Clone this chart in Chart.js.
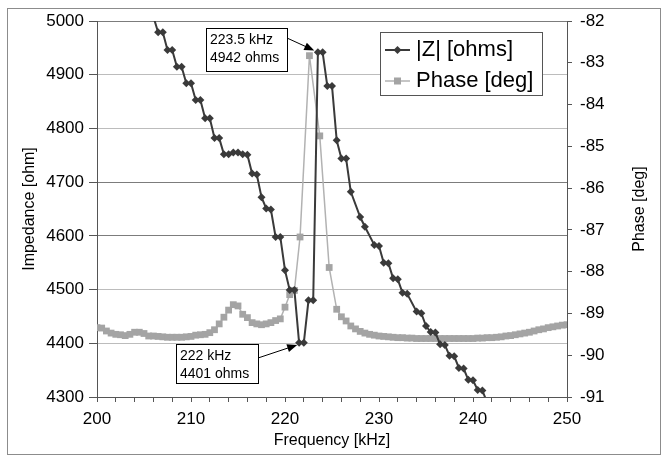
<!DOCTYPE html>
<html>
<head>
<meta charset="utf-8">
<script src="https://cdn.jsdelivr.net/npm/chart.js@4.4.1/dist/chart.umd.min.js"></script>
<style>
  body { margin: 0; background: #fff; }
</style>
</head>
<body>
<canvas id="myChart" width="669" height="463"></canvas>
<script>
// |Z| readings (kHz / ohm)
let zFreq = [205.5, 206, 206.5, 207, 207.5, 208, 208.5, 209, 209.5, 210, 210.5, 211, 211.5, 212, 212.5, 213,
  213.5, 214, 214.5, 215, 215.5, 216, 216.5, 217, 217.5, 218, 218.5, 219, 219.5, 220, 220.5, 221, 221.5, 222,
  222.5, 223, 223.5, 224, 224.5, 225, 225.5, 226, 226.5, 227, 228, 228.5, 229.5, 230, 230.5, 231, 231.5, 232,
  232.5, 233, 234, 234.5, 235, 235.5, 236, 236.5, 237, 237.5, 238, 238.5, 239, 239.5, 240, 240.5, 241, 241.5];
let zVals = [5008, 5008, 4979, 4979, 4946, 4946, 4915, 4915, 4884, 4884, 4853, 4853, 4819, 4819, 4782, 4782,
  4752, 4752, 4755, 4755, 4752, 4751, 4716, 4714, 4672, 4651, 4649, 4598, 4598, 4536, 4499, 4499, 4401, 4401,
  4480, 4480, 4942, 4942, 4879, 4879, 4778, 4744, 4744, 4682, 4635, 4617, 4583, 4581, 4550, 4549, 4521, 4519,
  4494, 4492, 4459, 4456, 4432, 4421, 4420, 4398, 4397, 4377, 4376, 4354, 4353, 4332, 4331, 4313, 4312, 4290];

// phase readings (kHz / deg)
let phFreq = [200, 200.5, 201, 201.5, 202, 202.5, 203, 203.5, 204, 204.5, 205, 205.5, 206, 206.5, 207, 207.5,
  208, 208.5, 209, 209.5, 210, 210.5, 211, 211.5, 212, 212.5, 213, 213.5, 214, 214.5, 215, 215.5, 216, 216.5,
  217, 217.5, 218, 218.5, 219, 219.5, 220, 220.5, 221, 221.6, 222.6, 223.7, 224.7, 225.5,
  226, 226.5, 227, 227.5, 228, 228.5, 229, 229.5, 230, 230.5, 231, 231.5, 232, 232.5, 233, 233.5, 234, 234.5,
  235, 235.5, 236, 236.5, 237, 237.5, 238, 238.5, 239, 239.5, 240, 240.5, 241, 241.5, 242, 242.5, 243, 243.5,
  244, 244.5, 245, 245.5, 246, 246.5, 247, 247.5, 248, 248.5, 249, 249.5, 250];
let phVals = [-89.34, -89.35, -89.42, -89.47, -89.50, -89.51, -89.53, -89.50, -89.45, -89.45, -89.48, -89.54,
  -89.54, -89.55, -89.56, -89.57, -89.57, -89.57, -89.57, -89.56, -89.55, -89.52, -89.51, -89.50, -89.46, -89.39,
  -89.25, -89.09, -88.92, -88.79, -88.82, -89.02, -89.10, -89.22, -89.25, -89.27, -89.25, -89.22, -89.17, -89.13,
  -88.85, -88.55, -88.45, -87.17, -82.83, -84.75, -87.90, -88.90,
  -89.08, -89.18, -89.30, -89.37, -89.43, -89.47, -89.50, -89.52, -89.54, -89.55, -89.56, -89.57, -89.58, -89.58,
  -89.59, -89.59, -89.60, -89.60, -89.60, -89.60, -89.60, -89.60, -89.60, -89.60, -89.60, -89.60, -89.60, -89.60,
  -89.60, -89.59, -89.59, -89.58, -89.58, -89.57, -89.56, -89.54, -89.53, -89.51, -89.49, -89.47, -89.45, -89.42,
  -89.39, -89.37, -89.34, -89.32, -89.30, -89.28, -89.27];

let freqRange = [200, 250];
let zRange = [4300, 5000];
let phRange = [-91, -82];

let notes = [
  { f: 223.5, z: 4942, text: ['223.5 kHz', '4942 ohms'] },
  { f: 222, z: 4401, text: ['222 kHz', '4401 ohms'] }
];

let seriesNames = ['|Z| [ohms]', 'Phase [deg]'];

let zColor = '#3a3a3a';
let phLine = '#b2b2b2';
let phMark = '#a4a4a4';
let fontFam = "'Liberation Sans', Arial, sans-serif";

function arrow(c, x1, y1, x2, y2) {
  let a = Math.atan2(y2 - y1, x2 - x1);
  c.beginPath();
  c.moveTo(x1, y1);
  c.lineTo(x2 - 6 * Math.cos(a), y2 - 6 * Math.sin(a));
  c.stroke();
  c.beginPath();
  c.moveTo(x2, y2);
  c.lineTo(x2 - 10 * Math.cos(a) + 4 * Math.sin(a), y2 - 10 * Math.sin(a) - 4 * Math.cos(a));
  c.lineTo(x2 - 10 * Math.cos(a) - 4 * Math.sin(a), y2 - 10 * Math.sin(a) + 4 * Math.cos(a));
  c.closePath();
  c.fill();
}

function noteBox(ch, n, bx, by, bw, bh, ax, ay, back) {
  let c = ch.ctx;
  let px = ch.scales.x.getPixelForValue(n.f);
  let py = ch.scales.y.getPixelForValue(n.z);
  let a = Math.atan2(py - ay, px - ax);
  c.strokeStyle = '#000';
  c.fillStyle = '#000';
  c.lineWidth = 1;
  arrow(c, ax, ay, px - back * Math.cos(a), py - back * Math.sin(a));
  c.fillStyle = '#fff';
  c.fillRect(bx, by, bw, bh);
  c.strokeRect(bx + 0.5, by + 0.5, bw, bh);
  c.fillStyle = '#000';
  c.font = '14px ' + fontFam;
  c.textBaseline = 'middle';
  c.textAlign = 'left';
  c.fillText(n.text[0], bx + 4, by + 12);
  c.fillText(n.text[1], bx + 4, by + 30);
}

let decor = {
  id: 'decor',
  beforeDraw(ch) {
    let c = ch.ctx;
    c.save();
    c.fillStyle = '#fff';
    c.fillRect(0, 0, ch.width, ch.height);
    c.strokeStyle = '#8c8c8c';
    c.lineWidth = 1;
    c.strokeRect(7.5, 8.5, 653, 446);
    c.restore();
  },
  afterDatasetsDraw(ch) {
    let c = ch.ctx;
    c.save();
    noteBox(ch, notes[0], 206, 28, 81, 43, 287, 38, 4);
    noteBox(ch, notes[1], 176, 344, 82, 39, 258, 358, 7);

    // legend
    c.fillStyle = '#fff';
    c.fillRect(380, 32, 163, 64);
    c.strokeStyle = '#555';
    c.lineWidth = 1;
    c.strokeRect(380.5, 32.5, 162, 63);

    c.strokeStyle = zColor;
    c.lineWidth = 2;
    c.beginPath(); c.moveTo(385, 50); c.lineTo(410, 50); c.stroke();
    c.fillStyle = zColor;
    c.beginPath(); c.moveTo(397.5, 46); c.lineTo(401.5, 50); c.lineTo(397.5, 54); c.lineTo(393.5, 50); c.closePath(); c.fill();

    c.strokeStyle = phLine;
    c.lineWidth = 1.5;
    c.beginPath(); c.moveTo(385, 81); c.lineTo(410, 81); c.stroke();
    c.fillStyle = phMark;
    c.fillRect(394, 77.5, 7, 7);

    c.fillStyle = '#000';
    c.font = '22px ' + fontFam;
    c.textBaseline = 'middle';
    c.fillText(seriesNames[0], 416, 50);
    c.fillText(seriesNames[1], 416, 81);

    // secondary axis title, rotated like the primary one
    let area = ch.chartArea;
    c.translate(640, (area.top + area.bottom) / 2);
    c.rotate(-Math.PI / 2);
    c.font = '16px ' + fontFam;
    c.textAlign = 'center';
    c.fillText('Phase [deg]', 0, 0);
    c.restore();
  }
};

Chart.defaults.font.family = fontFam;
Chart.defaults.color = '#000';

let ctx = document.getElementById('myChart').getContext('2d');
let chart = new Chart(ctx, {
  type: 'scatter',
  data: {
    datasets: [{
      label: seriesNames[0],
      data: zFreq.map((f, i) => ({ x: f, y: zVals[i] })),
      yAxisID: 'y',
      showLine: true,
      borderColor: zColor,
      borderWidth: 2,
      pointStyle: 'rectRot',
      pointRadius: 4,
      pointBorderWidth: 0,
      pointBackgroundColor: zColor
    }, {
      label: seriesNames[1],
      data: phFreq.map((f, i) => ({ x: f, y: phVals[i] })),
      yAxisID: 'y1',
      showLine: true,
      borderColor: phLine,
      borderWidth: 1.5,
      pointStyle: 'rect',
      pointRadius: 4.8,
      pointBorderWidth: 0,
      pointBackgroundColor: phMark
    }]
  },
  options: {
    responsive: false,
    animation: false,
    events: [],
    layout: { padding: { top: 21, left: 0, right: 0, bottom: 0 } },
    plugins: { legend: { display: false }, tooltip: { enabled: false } },
    scales: {
      x: {
        type: 'linear',
        min: freqRange[0],
        max: freqRange[1],
        afterFit: s => { s.height = 66; },
        border: { color: '#555' },
        grid: { drawOnChartArea: false, tickLength: 5, tickColor: '#555' },
        ticks: {
          stepSize: 2,
          autoSkip: false,
          maxRotation: 0,
          padding: 7,
          font: { size: 17 },
          callback: v => (Math.round(v) % 10 === 0 ? String(Math.round(v)) : '')
        },
        title: { display: true, text: 'Frequency [kHz]', font: { size: 16 }, padding: { top: 0, bottom: 13 } }
      },
      y: {
        position: 'left',
        min: zRange[0],
        max: zRange[1],
        afterFit: s => { s.width = 97; },
        border: { color: '#555' },
        grid: {
          tickLength: 8,
          tickColor: '#555',
          color: c => (c.tick && (c.tick.value === 4700 || c.tick.value === 4600 || c.tick.value === 5000)) ? '#7c7c7c' : '#bcbcbc'
        },
        ticks: { stepSize: 100, padding: 5, font: { size: 17 }, callback: v => String(v) },
        title: { display: true, text: 'Impedance [ohm]', font: { size: 16 }, padding: { top: 20 } }
      },
      y1: {
        position: 'right',
        min: phRange[0],
        max: phRange[1],
        afterFit: s => { s.width = 102; },
        border: { color: '#555' },
        grid: { drawOnChartArea: false, tickLength: 5, tickColor: '#555' },
        ticks: { stepSize: 1, padding: 8, font: { size: 17 }, callback: v => String(v) },
        title: { display: false }
      }
    }
  },
  plugins: [decor]
});
</script>
</body>
</html>
